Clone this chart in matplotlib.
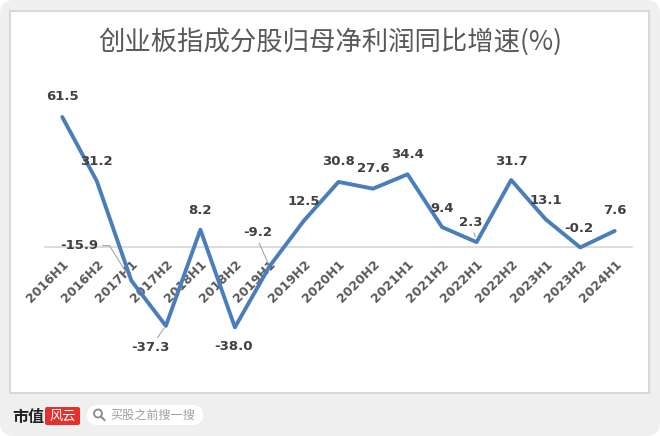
import matplotlib
matplotlib.use('Agg')
import matplotlib.pyplot as plt
from matplotlib.patches import FancyBboxPatch, Rectangle, Circle
from matplotlib.lines import Line2D

# ---------------- data ----------------
periods = ['2016H1', '2016H2', '2017H1', '2017H2', '2018H1', '2018H2', '2019H1',
           '2019H2', '2020H1', '2020H2', '2021H1', '2021H2', '2022H1', '2022H2',
           '2023H1', '2023H2', '2024H1']
growth = [61.5, 31.2, -15.9, -37.3, 8.2, -38.0, -9.2, 12.5, 30.8, 27.6, 34.4,
          9.4, 2.3, 31.7, 13.1, -0.2, 7.6]
title = '创业板指成分股归母净利润同比增速(%)'

# ---------------- style ----------------
CJK = ['Noto Sans CJK SC', 'DejaVu Sans']
line_color = '#4a7ebb'
# label offsets in pixels (dx, dy) and optional leader-line settings
label_offsets = {i: (0, 20) for i in range(len(growth))}
label_offsets.update({2: (-52, 35), 3: (-15, -22), 4: (0, 19), 5: (-1, -19),
                      6: (-12, 34), 7: (0, 19), 11: (0, 19), 12: (-6, 20),
                      13: (0, 18), 14: (0, 19), 15: (-1, 19)})
leaders = {
    2: dict(relpos=(1, 0.5), shrinkA=1, shrinkB=7,
            connectionstyle='angle,angleA=0,angleB=122,rad=0'),
    3: dict(relpos=(0.6, 1), shrinkA=1, shrinkB=2),
    6: dict(relpos=(0.5, 0), shrinkA=1, shrinkB=2),
    12: dict(relpos=(0.6, 0), shrinkA=1, shrinkB=4),
}

W, H = 660, 436
fig = plt.figure(figsize=(W / 100, H / 100), dpi=100, facecolor='white')

# background / decoration layer in pixel coordinates
bg = fig.add_axes([0, 0, 1, 1])
bg.set_xlim(0, W)
bg.set_ylim(H, 0)
bg.axis('off')
bg.add_patch(FancyBboxPatch((0, 0), W, H, boxstyle='round,pad=0,rounding_size=14',
                            fc='#efefef', ec='none'))
bg.add_patch(Rectangle((10, 11), 639, 382, fc='white', ec='#d5d5d5', lw=1.3))

# watermark / footer
bg.text(12, 417, '市值', fontsize=11.5, fontweight='bold', family=CJK,
        va='center', ha='left', color='#222222')
bg.add_patch(FancyBboxPatch((45, 407), 35, 18, boxstyle='round,pad=0,rounding_size=2',
                            fc='#e5302d', ec='none'))
bg.text(62.5, 416, '风云', fontsize=9.5, family=CJK, color='white', style='italic',
        va='center', ha='center')
bg.add_patch(FancyBboxPatch((87, 405), 116, 20, boxstyle='round,pad=0,rounding_size=10',
                            fc='white', ec='none'))
bg.add_patch(Circle((98, 413.5), 4, fill=False, ec='#8a8a8a', lw=1.3))
bg.add_line(Line2D([101, 104.5], [416.5, 420], color='#8a8a8a', lw=1.4))
bg.text(110, 415, '买股之前搜一搜', fontsize=8.7, family=CJK, color='#a0a0a0',
        va='center', ha='left')

# title
fig.text(330 / W, 1 - 42 / H, title, ha='center', va='center', fontsize=19,
         color='#595959', family=CJK)

# main chart
ax = fig.add_axes([45 / W, (H - 360) / H, 587 / W, 280 / H])
ax.patch.set_alpha(0)
x = list(range(len(periods)))
ax.plot(x, growth, color=line_color, lw=2.8, solid_joinstyle='round',
        solid_capstyle='round', zorder=3)
ax.set_xlim(-0.5, 16.5)
ax.set_ylim(-53.45, 79.0)
for s in ['top', 'right', 'left']:
    ax.spines[s].set_visible(False)
ax.spines['bottom'].set_position(('data', 0))
ax.spines['bottom'].set_color('#d9d9d9')
ax.spines['bottom'].set_linewidth(1.3)
ax.spines['bottom'].set_zorder(1)
ax.set_yticks([])
ax.set_xticks(x)
ax.set_xticklabels(periods, rotation=45, ha='right', va='top', rotation_mode='anchor',
                   fontsize=9, fontweight='bold', color='#595959')
ax.tick_params(axis='x', length=0, pad=8)

for i, v in enumerate(growth):
    dx, dy = label_offsets[i]
    kw = {}
    if i in leaders:
        ap = dict(arrowstyle='-', color='#a6a6a6', lw=0.8)
        ap.update(leaders[i])
        kw['arrowprops'] = ap
    ax.annotate(f'{v:.1f}', xy=(i, v), xytext=(dx, dy), textcoords='offset pixels',
                ha='center', va='center', fontsize=9.5, fontweight='bold',
                color='#404040', zorder=4, **kw)

fig.savefig('out.png', dpi=100, facecolor=fig.get_facecolor())
